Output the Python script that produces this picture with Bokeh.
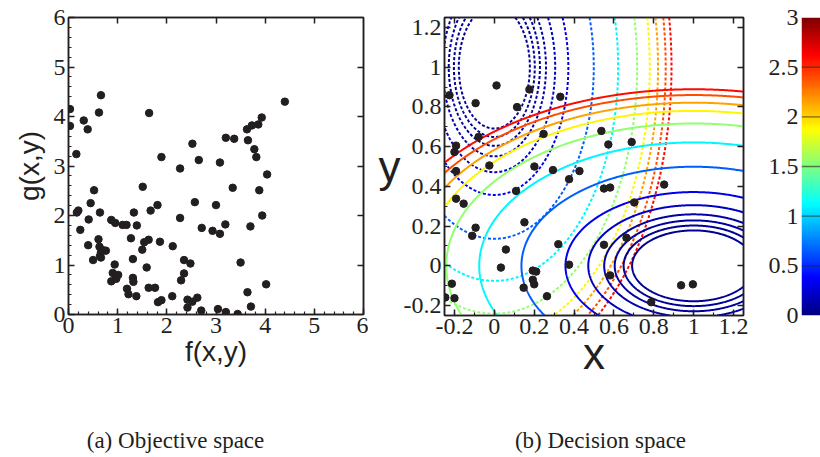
import numpy as np
from bokeh.plotting import figure
from bokeh.plotting.contour import contour_data
from bokeh.models import (Range1d, LinearAxis, FixedTicker, CustomJSTickFormatter,
                          Label, LinearColorMapper)
from bokeh.layouts import row, column
from bokeh.embed import file_html
from bokeh.resources import INLINE

# ---- objective space samples (f, g) ----
f_vals = [0.03, 0.03, 0.16, 0.17, 0.20, 0.24, 0.31, 0.39, 0.41, 0.45,
          0.40, 0.52, 0.50, 0.62, 0.66, 0.64, 0.61, 0.63, 0.64, 0.66,
          0.70, 0.66, 0.76, 0.87, 0.95, 1.10, 1.18, 1.39, 1.33, 1.27,
          0.94, 0.90, 0.87, 0.96, 1.01, 0.97, 1.31, 1.31, 1.32, 1.19,
          1.22, 1.38, 1.51, 1.54, 1.50, 1.63, 1.64, 1.67, 1.59, 1.63,
          1.76, 1.81, 1.86, 1.89, 1.82, 1.89, 2.12, 2.11, 2.27, 2.27,
          2.29, 2.35, 2.35, 2.48, 2.52, 2.57, 2.42, 2.42, 2.52, 2.62,
          2.65, 2.70, 2.71, 2.93, 3.00, 3.08, 3.08, 3.19, 3.20, 3.04,
          3.20, 3.34, 3.37, 3.44, 3.50, 3.63, 3.65, 3.64, 3.70, 3.73,
          3.71, 3.78, 3.82, 3.86, 3.88, 3.93, 3.94, 4.02, 4.04, 4.40]
g_vals = [4.15, 3.81, 3.24, 2.06, 2.10, 1.71, 3.92, 3.74, 1.92, 2.25,
          1.40, 2.51, 1.10, 4.08, 4.43, 2.06, 1.52, 1.37, 1.18, 1.26,
          1.30, 1.15, 1.29, 1.91, 1.85, 1.81, 1.81, 1.80, 2.06, 1.54,
          1.01, 0.84, 0.67, 0.79, 0.80, 0.72, 1.12, 0.74, 0.66, 0.52,
          0.41, 0.37, 2.58, 1.46, 1.31, 1.51, 4.07, 2.10, 0.95, 0.54,
          0.54, 2.21, 1.47, 3.18, 0.25, 0.29, 1.38, 0.37, 2.95, 1.95,
          0.69, 1.10, 0.83, 1.03, 3.45, 2.27, 0.30, 0.14, 0.26, 0.34,
          3.12, 0.08, 1.75, 1.69, 2.21, 1.63, 3.07, 1.82, 3.57, 0.11,
          0.05, 2.56, 3.55, 0.01, 1.05, 3.74, 3.52, 0.45, 1.78, 3.82,
          0.16, 3.34, 3.18, 3.84, 2.51, 3.98, 2.00, 0.61, 2.83, 4.30]

# ---- decision space samples (x, y) ----
x_vals = [-0.225, 0.011, -0.094, 0.176, 0.114, 0.331, -0.079, -0.192, -0.200, -0.192,
          -0.025, 0.247, 0.201, 0.294, 0.375, 0.427, 0.537, 0.572, 0.689, 0.550,
          0.581, 0.852, -0.192, -0.154, 0.109, 0.702, 0.151, -0.094, -0.111, 0.058,
          0.321, 0.550, 0.663, 0.033, 0.375, 0.193, 0.210, 0.193, 0.200, 0.147,
          0.581, -0.213, -0.246, -0.200, 0.264, 0.787, 0.937, 0.996]
y_vals = [0.859, 0.908, 0.819, 0.888, 0.799, 0.851, 0.649, 0.605, 0.573, 0.477,
          0.505, 0.664, 0.500, 0.482, 0.436, 0.477, 0.679, 0.611, 0.623, 0.389,
          0.394, 0.409, 0.338, 0.313, 0.377, 0.319, 0.219, 0.192, 0.151, 0.082,
          0.109, 0.106, 0.141, -0.009, 0.006, -0.024, -0.029, -0.070, -0.093, -0.110,
          -0.048, -0.090, -0.159, -0.163, -0.153, -0.183, -0.098, -0.093]

# contour levels shared by both objectives, and axis ticks
levels = [0.055, 0.075, 0.1, 0.135, 0.2, 0.32, 0.65, 1.1, 1.55, 1.9, 2.15, 2.4, 2.6]
obj_ticks = [0, 1, 2, 3, 4, 5, 6]
dec_ticks = [-0.2, 0, 0.2, 0.4, 0.6, 0.8, 1, 1.2]
cbar_ticks = [0, 0.5, 1, 1.5, 2, 2.5, 3]
cbar_lines = [0.5, 1, 1.5, 2, 2.5]
cbar_low, cbar_high = 0.0, 3.0

INK = "#231f20"
SERIF = "Liberation Serif"
SANS = "Liberation Sans"
TICK_SIZE = "24px"


def jet(t):
    t = np.clip(np.asarray(t, dtype=float), 0, 1)
    r = np.clip(1.5 - np.abs(4 * t - 3), 0, 1)
    g = np.clip(1.5 - np.abs(4 * t - 2), 0, 1)
    b = np.clip(1.5 - np.abs(4 * t - 1), 0, 1)
    return r, g, b


def to_hex(r, g, b):
    return "#%02x%02x%02x" % (int(round(r * 255)), int(round(g * 255)), int(round(b * 255)))


def level_color(v):
    r, g, b = jet((v - cbar_low) / (cbar_high - cbar_low))
    return to_hex(float(r), float(g), float(b))


JET256 = [to_hex(*map(float, jet(t))) for t in np.linspace(0, 1, 256)]

SQ3 = np.sqrt(3.0)


def objective_f(x, y):
    return 3.45 * (((x - 1.0) / SQ3) ** 2 + y ** 2) ** 1.2


def objective_g(x, y):
    return 3.45 * (x ** 2 + ((y - 1.0) / SQ3) ** 2) ** 1.2


def style_axis(ax, minor=True):
    ax.major_tick_in = 6
    ax.major_tick_out = 0
    ax.minor_tick_in = 3 if minor else 0
    ax.minor_tick_out = 0
    ax.axis_line_color = INK
    ax.axis_line_width = 1.5
    ax.major_tick_line_color = INK
    ax.major_tick_line_width = 1.5
    ax.minor_tick_line_color = INK if minor else None
    ax.minor_tick_line_width = 1.2
    ax.major_label_text_font = SERIF
    ax.major_label_text_font_size = TICK_SIZE
    ax.major_label_text_color = INK
    ax.major_label_standoff = 3


def mirror_axis(ticks):
    ax = LinearAxis(ticker=FixedTicker(ticks=ticks),
                    formatter=CustomJSTickFormatter(code="return '';"))
    style_axis(ax, minor=False)
    ax.major_label_text_font_size = "1px"
    ax.major_label_standoff = 0
    return ax


def label_style(ax, size):
    ax.axis_label_text_font = SANS
    ax.axis_label_text_font_size = size
    ax.axis_label_text_font_style = "normal"
    ax.axis_label_text_color = INK


num_fmt = CustomJSTickFormatter(code="return String(Math.round(tick * 10) / 10);")

# ---------------- (a) objective space ----------------
p1 = figure(frame_width=295, frame_height=297,
            x_range=Range1d(0, 6), y_range=Range1d(0, 6),
            min_border_left=68, min_border_right=5, min_border_top=15, min_border_bottom=68,
            output_backend="svg", toolbar_location=None)
p1.grid.visible = False
p1.outline_line_color = INK
p1.outline_line_width = 1.5
obj_minor = [round(0.2 * i, 1) for i in range(31)]
p1.xaxis.ticker = FixedTicker(ticks=obj_ticks, minor_ticks=obj_minor)
p1.yaxis.ticker = FixedTicker(ticks=obj_ticks, minor_ticks=obj_minor)
for ax in list(p1.xaxis) + list(p1.yaxis):
    style_axis(ax)
    label_style(ax, "28px")
p1.xaxis.axis_label = "f(x,y)"
p1.yaxis.axis_label = "g(x,y)"
p1.xaxis.axis_label_standoff = 0
p1.yaxis.axis_label_standoff = 6
p1.add_layout(mirror_axis(obj_ticks[1:-1]), "above")
p1.add_layout(mirror_axis(obj_ticks[1:-1]), "right")
p1.scatter(f_vals, g_vals, size=7.5, color=INK)

# ---------------- (b) decision space ----------------
p2 = figure(frame_width=299, frame_height=298,
            x_range=Range1d(-0.25, 1.25), y_range=Range1d(-0.25, 1.25),
            min_border_left=76, min_border_right=17, min_border_top=17, min_border_bottom=65,
            output_backend="svg", toolbar_location=None)
p2.grid.visible = False
p2.outline_line_color = INK
p2.outline_line_width = 1.5
dec_minor = [round(-0.2 + 0.1 * i, 1) for i in range(15)]
p2.xaxis.ticker = FixedTicker(ticks=dec_ticks, minor_ticks=dec_minor)
p2.yaxis.ticker = FixedTicker(ticks=dec_ticks, minor_ticks=dec_minor)
for ax in list(p2.xaxis) + list(p2.yaxis):
    style_axis(ax)
    ax.formatter = num_fmt
    label_style(ax, "44px")
p2.xaxis.axis_label = "x"
p2.xaxis.axis_label_standoff = -8
p2.yaxis.axis_label = "y"
p2.yaxis.axis_label_standoff = 0
if "axis_label_orientation" in p2.yaxis[0].properties():
    p2.yaxis.axis_label_orientation = "horizontal"
p2.add_layout(mirror_axis(dec_ticks), "above")
p2.add_layout(mirror_axis(dec_ticks), "right")

grid = np.linspace(-0.25, 1.25, 401)
GX, GY = np.meshgrid(grid, grid)
for func, dash in ((objective_g, "3 2"), (objective_f, "solid")):
    lines = contour_data(GX, GY, func(GX, GY), levels, want_fill=False, want_line=True).line_data
    colors = [level_color(v) for v in lines.levels]
    p2.multi_line(xs=list(lines.xs), ys=list(lines.ys), line_color=colors,
                  line_width=2, line_dash=dash)

p2.scatter(x_vals, y_vals, size=7.5, color=INK)

# ---------------- colour bar ----------------
p3 = figure(frame_width=19, frame_height=298,
            x_range=Range1d(0, 1), y_range=Range1d(cbar_low, cbar_high),
            min_border_left=41, min_border_right=0, min_border_top=17, min_border_bottom=65,
            output_backend="svg", toolbar_location=None)
p3.grid.visible = False
p3.outline_line_color = None
p3.xaxis.visible = False
mapper = LinearColorMapper(palette=JET256, low=cbar_low, high=cbar_high)
ramp = np.linspace(cbar_low, cbar_high, 256).reshape(256, 1)
p3.image(image=[ramp], x=0, y=cbar_low, dw=1, dh=cbar_high - cbar_low, color_mapper=mapper)
p3.segment(x0=[0] * len(cbar_lines), x1=[1] * len(cbar_lines), y0=cbar_lines, y1=cbar_lines,
           line_color="#202020", line_alpha=0.6, line_width=1.3)
p3.yaxis.ticker = FixedTicker(ticks=cbar_ticks)
p3.yaxis.formatter = num_fmt
style_axis(p3.yaxis[0], minor=False)
p3.yaxis.major_tick_in = 0
p3.yaxis.axis_line_color = None
p3.yaxis.major_tick_line_color = None

# ---------------- captions ----------------
cap = figure(width=820, height=77, x_range=Range1d(0, 820), y_range=Range1d(0, 77),
             min_border=0, output_backend="svg", toolbar_location=None,
             x_axis_type=None, y_axis_type=None)
cap.grid.visible = False
cap.outline_line_color = None
for xc, txt in ((175, "(a) Objective space"), (600, "(b) Decision space")):
    cap.add_layout(Label(x=xc, y=17, text=txt, text_font=SERIF, text_font_size="23px",
                         text_color=INK, text_align="center", text_baseline="alphabetic"))

layout = column(row(p1, p2, p3), cap)
open("out.html", "w").write(file_html(layout, INLINE))
